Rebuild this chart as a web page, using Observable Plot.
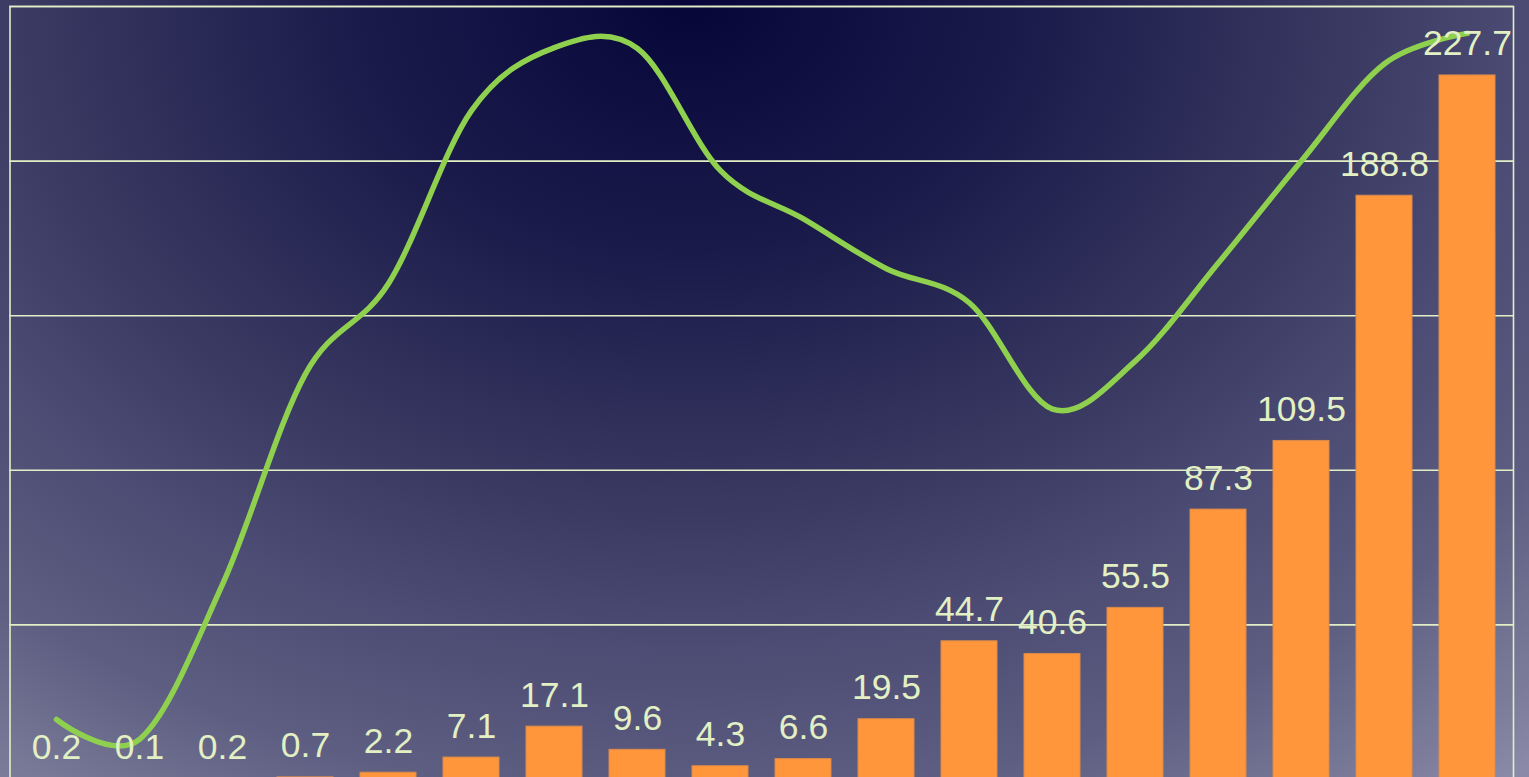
<!DOCTYPE html>
<html>
<head>
<meta charset="utf-8">
<script src="https://cdn.jsdelivr.net/npm/d3@7"></script>
<script src="https://cdn.jsdelivr.net/npm/@observablehq/plot@0.6"></script>
<style>
  html, body { margin: 0; padding: 0; width: 1529px; height: 777px; overflow: hidden; }
  body {
    background: radial-gradient(ellipse 1300px 1000px at 690px 0px, #06063a 0%, #1a1a4a 25%, #3c3c64 53%, #4c4c74 65%, #5e5e82 80%, #7c7c9a 94%, #8a8aa8 100%);
  }
  #chart svg { display: block; }
</style>
</head>
<body>
<div id="chart"></div>
<script>
// categories (axis labels are cropped out of the reference)
const categories = ["1","2","3","4","5","6","7","8","9","10","11","12","13","14","15","16","17","18"];
// bar values
const barValues = [0.2, 0.1, 0.2, 0.7, 2.2, 7.1, 17.1, 9.6, 4.3, 6.6, 19.5, 44.7, 40.6, 55.5, 87.3, 109.5, 188.8, 227.7];
// line series (read against the same 0–250 scale)
const lineValues = [19.4, 13.0, 63.1, 131.2, 160.4, 216.3, 236.7, 236.4, 196.9, 181.3, 165.2, 154.1, 119.8, 135.4, 167.1, 200.1, 231.5, 241.3];
// y gridline ticks
const yTicks = [0, 50, 100, 150, 200, 250];

const data = categories.map((c, i) => ({cat: c, bar: barValues[i], line: lineValues[i]}));

const gridColor = "#e2efc6";
const labelColor = "#e2f0c4";

const chart = Plot.plot({
  width: 1529,
  height: 813,
  marginLeft: 9.5,
  marginRight: 16,
  marginTop: 6,
  marginBottom: 34,
  style: {background: "transparent", overflow: "visible"},
  x: {type: "band", domain: categories, paddingInner: 0.33, paddingOuter: 0.165, align: 0.5, axis: null},
  y: {domain: [0, 250], axis: null},
  marks: [
    Plot.ruleY(yTicks, {stroke: gridColor, strokeWidth: 1.6}),
    Plot.frame({stroke: gridColor, strokeWidth: 1.6}),
    Plot.barY(data, {x: "cat", y: "bar", fill: "#ff963c", stroke: "#d98a4c", strokeWidth: 1}),
    Plot.line(data, {
      x: "cat", y: "line", curve: "cardinal", tension: 0,
      stroke: "#8fd14f", strokeWidth: 5.5, strokeLinecap: "round", strokeLinejoin: "round"
    }),
    Plot.text(data, {
      x: "cat", y: "bar", text: d => d.bar.toFixed(1),
      lineAnchor: "bottom", dy: -20,
      fill: labelColor, fontSize: 35.5,
      fontFamily: "Liberation Sans, Arial, sans-serif"
    })
  ]
});
document.getElementById("chart").appendChild(chart);
</script>
</body>
</html>
